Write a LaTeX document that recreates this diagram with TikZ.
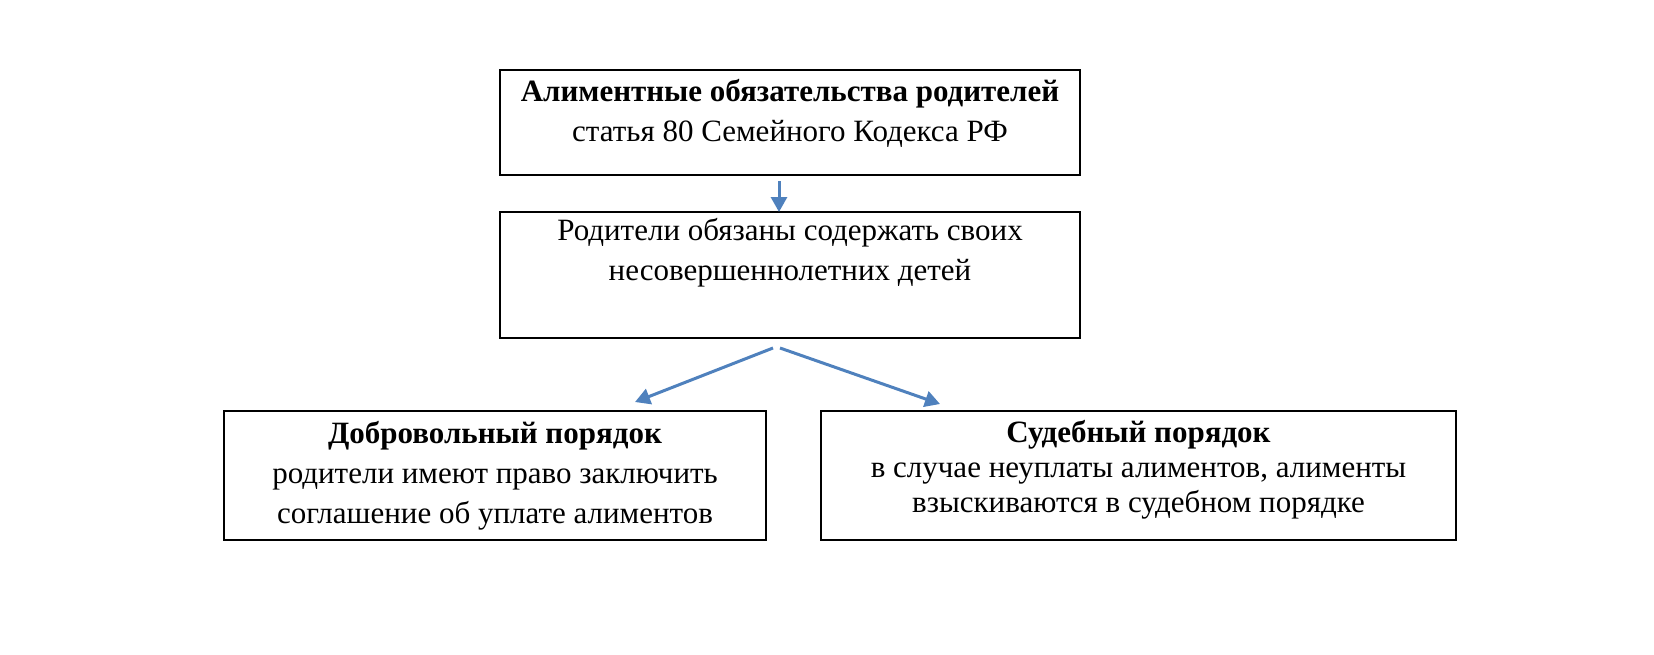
\documentclass[tikz,border=0pt]{standalone}
\usepackage{fontspec}
\setmainfont{Liberation Serif}
\usetikzlibrary{arrows.meta}
\definecolor{arr}{RGB}{79,129,189}
\tikzset{box/.style={draw,line width=2pt,inner sep=0pt},
 txt/.style={align=center,font=\fontsize{31}{40}\selectfont,inner sep=0pt},
 conn/.style={arr,line width=3pt,-{Triangle[length=15pt,width=16pt]}}}
\begin{document}
\begin{tikzpicture}[x=1pt,y=-1pt]
\useasboundingbox (0,0) rectangle (1654,654);
\node[box,minimum width=580pt,minimum height=105pt] (top) at (790,122.5) {};
\node[txt] (ttop) at (790,113) {\textbf{Алиментные обязательства родителей}\\статья 80 Семейного Кодекса РФ};
\node[box,minimum width=580pt,minimum height=126pt] (mid) at (790,275) {};
\node[txt] (tmid) at (790,253) {Родители обязаны содержать своих\\несовершеннолетних детей};
\node[box,minimum width=542pt,minimum height=129pt] (left) at (495,475.5) {};
\node[txt] (tleft) at (495,476) {\textbf{Добровольный порядок}\\родители имеют право заключить\\соглашение об уплате алиментов};
\node[box,minimum width=635pt,minimum height=129pt] (right) at (1138.5,475.5) {};
\node[txt,font=\fontsize{31}{35}\selectfont] (tright) at (1138.5,470) {\textbf{Судебный порядок}\\в случае неуплаты алиментов, алименты\\взыскиваются в судебном порядке};
\coordinate (a1) at (779,181);
\coordinate (b1) at (779,212);
\coordinate (a2) at (773,348);
\coordinate (b2) at (635,402);
\coordinate (a3) at (780,348);
\coordinate (b3) at (940,404);
\draw[conn] (a1) -- (b1);
\draw[conn] (a2) -- (b2);
\draw[conn] (a3) -- (b3);
\end{tikzpicture}
\end{document}
